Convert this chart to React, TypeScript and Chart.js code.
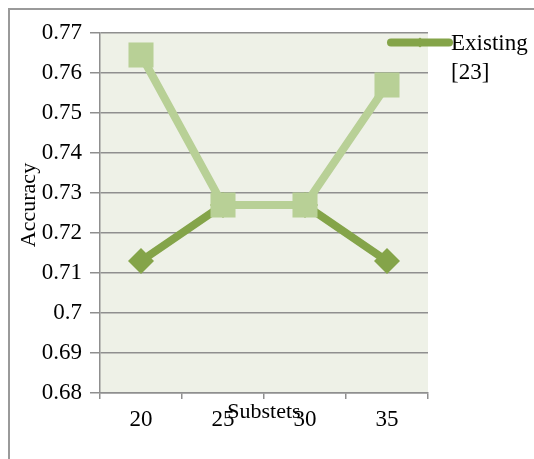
import { useEffect, useRef } from "react";
import { Chart, registerables } from "chart.js";

Chart.register(...registerables);

// Subset sizes on the x axis
const subsets = ["20", "25", "30", "35"];
// Accuracy per subset size
const existingAccuracy = [0.713, 0.727, 0.727, 0.713];
const proposedAccuracy = [0.7645, 0.727, 0.727, 0.757];
// Accuracy axis range
const yMin = 0.68;
const yMax = 0.77;
const yStep = 0.01;

const existingLabel = ["Existing", "[23]"];
const xTitle = "Substets";
const yTitle = "Accuracy";

const DARK = "#84a449";
const LIGHT = "#b8d096";
const GRID = "#8f8f8f";
const PLOT_BG = "#eef1e7";
const FONT = "'Liberation Serif', 'Times New Roman', serif";
const FONT_SIZE = 23;

const plotBackground = {
  id: "plotBackground",
  beforeDraw(chart: any) {
    const { ctx, chartArea: a } = chart;
    ctx.save();
    ctx.fillStyle = PLOT_BG;
    ctx.fillRect(a.left, a.top, a.right - a.left, a.bottom - a.top);
    ctx.restore();
  },
};

const titlesAndLegend = {
  id: "titlesAndLegend",
  afterDraw(chart: any) {
    const { ctx, chartArea: a } = chart;
    ctx.save();
    ctx.fillStyle = "#000";
    // axis titles
    ctx.font = `22px ${FONT}`;
    ctx.textAlign = "center";
    ctx.textBaseline = "middle";
    ctx.fillText(xTitle, (a.left + a.right) / 2, a.bottom + 19);
    ctx.save();
    ctx.translate(a.left - 71, (a.top + a.bottom) / 2 - 8);
    ctx.rotate(-Math.PI / 2);
    ctx.fillText(yTitle, 0, 0);
    ctx.restore();

    // legend entry
    const lx0 = a.right - 37;
    const lx1 = a.right + 21;
    const ly = a.top + 9.5;
    ctx.strokeStyle = DARK;
    ctx.lineWidth = 8;
    ctx.lineCap = "round";
    ctx.beginPath();
    ctx.moveTo(lx0, ly);
    ctx.lineTo(lx1, ly);
    ctx.stroke();
    const cx = (lx0 + lx1) / 2;
    ctx.fillStyle = DARK;
    ctx.beginPath();
    ctx.moveTo(cx, ly - 5);
    ctx.lineTo(cx + 5, ly);
    ctx.lineTo(cx, ly + 5);
    ctx.lineTo(cx - 5, ly);
    ctx.closePath();
    ctx.fill();
    ctx.fillStyle = "#000";
    ctx.font = `${FONT_SIZE}px ${FONT}`;
    ctx.textAlign = "left";
    existingLabel.forEach((t, i) => ctx.fillText(t, lx1 + 2, ly + 1 + i * 29));
    ctx.restore();
  },
};

export default function App() {
  const canvasRef = useRef<HTMLCanvasElement>(null);

  useEffect(() => {
    if (!canvasRef.current) return;
    const chart = new Chart(canvasRef.current, {
      type: "line",
      data: {
        labels: subsets,
        datasets: [
          {
            label: existingLabel.join(" "),
            data: existingAccuracy,
            borderColor: DARK,
            backgroundColor: DARK,
            borderWidth: 8,
            pointStyle: "rectRot",
            pointRadius: 13,
            pointBorderWidth: 0,
            pointBackgroundColor: DARK,
            order: 2,
            clip: false,
          },
          {
            label: "Proposed",
            data: proposedAccuracy,
            borderColor: LIGHT,
            backgroundColor: LIGHT,
            borderWidth: 8,
            pointStyle: "rect",
            pointRadius: 17.7,
            pointBorderWidth: 0,
            pointBackgroundColor: LIGHT,
            order: 1,
            clip: false,
          },
        ],
      },
      options: {
        animation: false,
        responsive: false,
        events: [],
        layout: { padding: { left: 0, top: 33, right: 106, bottom: 0 } },
        plugins: { legend: { display: false }, tooltip: { enabled: false } },
        scales: {
          x: {
            offset: true,
            afterFit: (s: any) => {
              s.height = 66;
            },
            grid: {
              drawOnChartArea: false,
              offset: true,
              tickLength: 6,
              color: GRID,
              lineWidth: 1.5,
            },
            border: { display: true, color: GRID, width: 1.5 },
            ticks: {
              color: "#000",
              font: { family: FONT, size: FONT_SIZE },
              padding: 7,
              maxRotation: 0,
            },
          },
          y: {
            min: yMin,
            max: yMax,
            afterFit: (s: any) => {
              s.width = 100;
            },
            grid: { color: GRID, lineWidth: 1.5, tickLength: 10 },
            border: { display: true, color: GRID, width: 1.5 },
            ticks: {
              stepSize: yStep,
              color: "#000",
              font: { family: FONT, size: FONT_SIZE },
              padding: 8,
              callback: (v: any) => String(Number(Number(v).toFixed(2))),
            },
          },
        },
      },
      plugins: [plotBackground, titlesAndLegend],
    });
    return () => chart.destroy();
  }, []);

  return (
    <div
      style={{
        position: "fixed",
        left: 0,
        top: 0,
        width: 534,
        height: 459,
        overflow: "hidden",
        background: "#fff",
      }}
    >
      <div
        style={{
          position: "absolute",
          left: 8,
          top: 8,
          width: 600,
          height: 600,
          borderLeft: "2px solid #9a9a9a",
          borderTop: "2px solid #9a9a9a",
        }}
      />
      <canvas
        ref={canvasRef}
        width={534}
        height={459}
        style={{ position: "absolute", left: 0, top: 0 }}
      />
    </div>
  );
}
